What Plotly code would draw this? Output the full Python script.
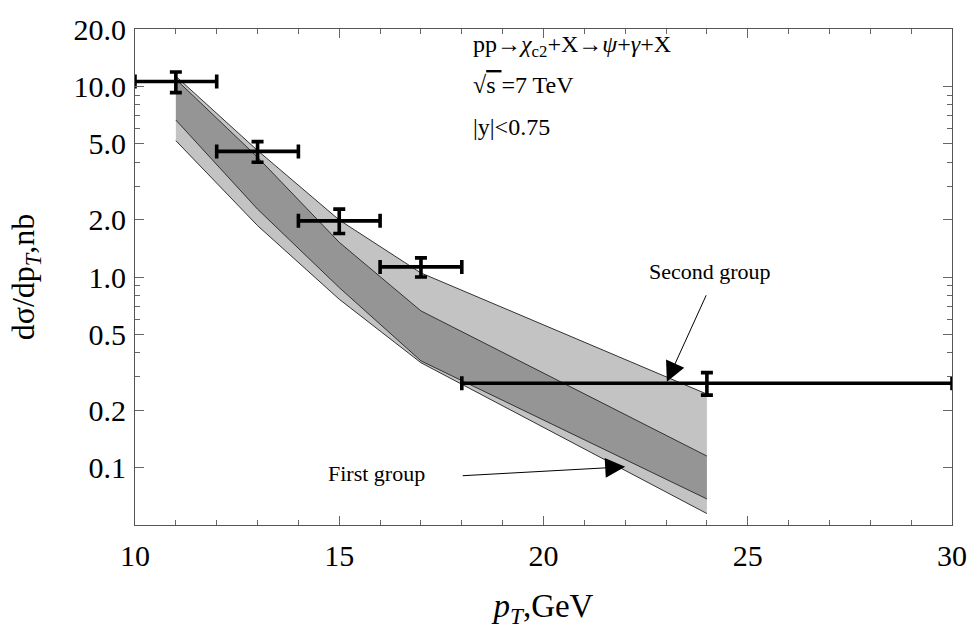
import numpy as np
import plotly.graph_objects as go

# ---------------- data ----------------
band_x = [11, 13, 15, 17, 24]
# Second group (upper light band)
second_upper = [11.3, 4.61, 1.99, 1.05, 0.243]
second_lower = [6.66, 2.27, 0.88, 0.363, 0.0685]
# First group (lower band)
first_upper = [10.9, 4.25, 1.52, 0.664, 0.115]
first_lower = [5.19, 1.86, 0.764, 0.355, 0.0574]

pt_x = [11, 13, 15, 17, 24]
pt_y = [10.6, 4.56, 1.97, 1.13, 0.277]
pt_err_up = [1.3, 0.57, 0.30, 0.13, 0.038]
pt_err_dn = [1.33, 0.56, 0.28, 0.13, 0.037]
pt_xerr = [1, 1, 1, 1, 6]

x_major = [10, 15, 20, 25, 30]
x_minor = [v for v in range(10, 31) if v not in x_major]
y_major = [0.1, 0.2, 0.5, 1.0, 2.0, 5.0, 10.0, 20.0]
y_major_text = ["0.1", "0.2", "0.5", "1.0", "2.0", "5.0", "10.0", "20.0"]
y_minor = [0.3, 0.4, 0.6, 0.7, 0.8, 0.9, 3, 4, 6, 7, 8, 9]

FONT = "Liberation Serif"
fill_col = "rgba(0,0,0,0.235)"
edge_col = "#333333"

fig = go.Figure()

# bands (overlap gives darker gray)
for up, lo in [(second_upper, second_lower), (first_upper, first_lower)]:
    fig.add_trace(go.Scatter(
        x=band_x + band_x[::-1], y=up + lo[::-1],
        fill="toself", fillcolor=fill_col, mode="none",
        hoverinfo="skip", showlegend=False))

for line in [second_upper, second_lower, first_upper, first_lower]:
    fig.add_trace(go.Scatter(
        x=band_x, y=line, mode="lines",
        line=dict(color=edge_col, width=1),
        hoverinfo="skip", showlegend=False))

# data points with error bars
fig.add_trace(go.Scatter(
    x=pt_x, y=pt_y, mode="markers",
    marker=dict(size=1, color="black"),
    error_x=dict(type="data", array=pt_xerr, color="black", thickness=3.6, width=7),
    error_y=dict(type="data", array=pt_err_up, arrayminus=pt_err_dn,
                 color="black", thickness=3.6, width=6),
    cliponaxis=False, showlegend=False))

axis_common = dict(
    showline=True, linecolor="#555555", linewidth=1, mirror="allticks",
    ticks="inside", tickcolor="#666666", tickwidth=1,
    showgrid=False, zeroline=False,
    tickfont=dict(family=FONT, size=30, color="black"),
)

fig.update_layout(
    width=979, height=634,
    margin=dict(l=135, r=25, t=19, b=109),
    paper_bgcolor="white", plot_bgcolor="white",
    font=dict(family=FONT, color="black"),
    xaxis=dict(
        range=[10, 30], tickmode="array", tickvals=x_major,
        ticktext=[str(v) for v in x_major], ticklen=9,
        minor=dict(tickmode="array", tickvals=x_minor, ticklen=5,
                   ticks="inside", tickcolor="#666666"),
        ticklabelstandoff=4,
        title=dict(text="<i>p</i><sub><i>T</i></sub>,GeV",
                   font=dict(family=FONT, size=33), standoff=22),
        **axis_common),
    yaxis=dict(
        type="log", range=[np.log10(0.05), np.log10(20)],
        tickmode="array", tickvals=y_major, ticktext=y_major_text, ticklen=9,
        minor=dict(tickmode="array", tickvals=y_minor, ticklen=5,
                   ticks="inside", tickcolor="#666666"),
        ticklabelstandoff=2,
        title=dict(text="dσ/dp<sub><i>T</i></sub>,nb",
                   font=dict(family=FONT, size=32), standoff=29),
        **axis_common),
)

# text annotations
ann_font = dict(family=FONT, size=24, color="black")
ann_x = 0.4115
fig.add_annotation(x=ann_x, y=0.965, xref="paper", yref="paper",
                   text="pp→<i>χ</i><sub>c2</sub>+X→<i>ψ</i>+<i>γ</i>+X",
                   showarrow=False, xanchor="left", yanchor="middle", font=ann_font)
fig.add_annotation(x=ann_x, y=0.888, xref="paper", yref="paper",
                   text="√<span style='text-decoration:overline'>s </span>=7 TeV",
                   showarrow=False, xanchor="left", yanchor="middle", font=ann_font)
fig.add_annotation(x=ann_x, y=0.802, xref="paper", yref="paper",
                   text="|y|&lt;0.75",
                   showarrow=False, xanchor="left", yanchor="middle", font=ann_font)

grp_font = dict(family=FONT, size=22, color="black")
fig.add_annotation(x=23.02, y=np.log10(0.282), xref="x", yref="y",
                   text="", showarrow=True, arrowhead=2, arrowsize=4,
                   arrowwidth=1, arrowcolor="black", ax=40, ay=-88)
fig.add_annotation(x=(648 - 135) / 819, y=1 - (266 - 19) / 506, xref="paper", yref="paper",
                   text="Second group", showarrow=False,
                   xanchor="left", yanchor="middle", font=grp_font)
fig.add_annotation(x=22.0, y=np.log10(0.101), xref="x", yref="y",
                   text="", showarrow=True, arrowhead=2, arrowsize=4,
                   arrowwidth=1, arrowcolor="black", ax=-164, ay=9)
fig.add_annotation(x=(428 - 135) / 819, y=1 - (472 - 19) / 506, xref="paper", yref="paper",
                   text="First group", showarrow=False,
                   xanchor="right", yanchor="middle", font=grp_font)

fig.write_html("out.html", config={"displayModeBar": False},
               post_script="document.body.style.margin='0px';document.body.style.overflow='hidden';")
